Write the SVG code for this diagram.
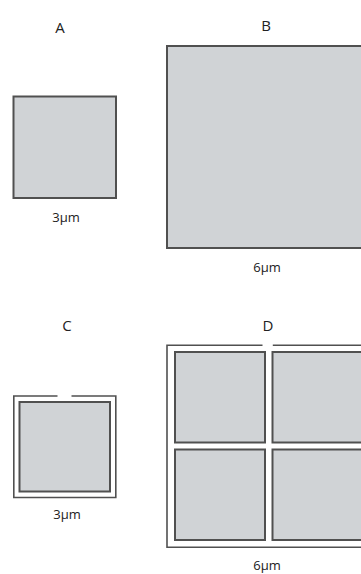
<svg xmlns="http://www.w3.org/2000/svg" width="361" height="574" viewBox="0 0 361 574">
<style>
.cell{fill:#d0d3d6;stroke:#505050;stroke-width:2}
.wall{fill:none;stroke:#505050;stroke-width:1.6}
.lbl{font-family:"Open Sans","Liberation Sans",sans-serif;font-size:15px;fill:#222;text-anchor:middle}
.dim{font-family:"Open Sans","Liberation Sans",sans-serif;font-size:13px;fill:#222;text-anchor:middle}
</style>
<rect width="361" height="574" fill="#fff"/>
<g id="A">
<text class="lbl" x="60" y="33">A</text>
<rect class="cell" x="13.5" y="96.5" width="102.5" height="101.5"/>
<text class="dim" x="66" y="222">3μm</text>
</g>
<g id="B">
<text class="lbl" x="266" y="31">B</text>
<rect class="cell" x="167" y="46" width="202" height="202"/>
<text class="dim" x="267" y="272">6μm</text>
</g>
<g id="C">
<text class="lbl" x="67" y="331">C</text>
<path class="wall" d="M57.5 396 H13.8 V497.5 H115.8 V396 H71.5"/>
<rect class="cell" x="19.5" y="402" width="90.5" height="89.5"/>
<text class="dim" x="67" y="519">3μm</text>
</g>
<g id="D">
<text class="lbl" x="268" y="331">D</text>
<path class="wall" d="M262.5 345.3 H167 V547.3 H370 V345.3 H272.8"/>
<rect class="cell" x="175" y="352" width="90" height="90.5"/>
<rect class="cell" x="272.5" y="352" width="92" height="90.5"/>
<rect class="cell" x="175" y="449.5" width="90" height="90.5"/>
<rect class="cell" x="272.5" y="449.5" width="92" height="90.5"/>
<text class="dim" x="267" y="570">6μm</text>
</g>
<g id="connectors"/>
</svg>
